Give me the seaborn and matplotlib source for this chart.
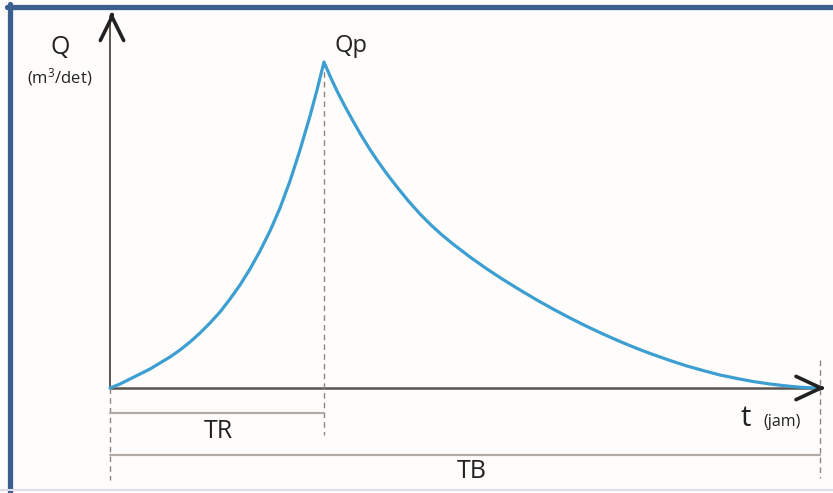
import numpy as np
import pandas as pd
import matplotlib.pyplot as plt
import seaborn as sns
from matplotlib.lines import Line2D

# hydrograph curve (t from the origin, Q upward)
rise_t = [0, 10, 20, 30, 40, 50, 60, 70, 80, 90, 100, 110, 120, 130, 140,
          150, 160, 170, 180, 190, 200, 207, 214]
rise_q = [0, 4, 9, 14, 19, 25, 31, 38, 46, 55, 65, 76, 89, 103, 119,
          137, 157, 180, 207, 238, 272, 298, 326]
fall_t = [214, 220, 227, 235, 243, 251, 260, 268, 277, 287, 298, 310, 321, 332,
          343, 360, 377, 393, 410, 426, 443, 460, 477, 493, 510, 527, 543, 560,
          577, 593, 610, 627, 643, 660, 677, 690, 705]
fall_q = [326, 312, 297, 281.5, 267, 253, 238.5, 226.5, 214, 201, 187.5, 174, 163, 153,
          144, 131, 119, 108.5, 98, 88.5, 79, 70, 61.5, 54, 46.5, 39.5, 33.5, 27.5,
          22, 17.5, 13, 9.5, 6.5, 4, 2, 0.8, 0]

t_peak = 214
t_base = 710
q_peak = 326

df = pd.DataFrame({"t": rise_t + fall_t[1:], "Q": rise_q + fall_q[1:]})

sns.set_theme(style="white")
plt.rcParams["font.family"] = ["Open Sans", "DejaVu Sans"]
plt.rcParams["mathtext.default"] = "regular"

fig = plt.figure(figsize=(8.33, 4.93), dpi=100, facecolor="#fffdfb")
ax = fig.add_axes([0, 0, 1, 1])
ax.set_facecolor("#fffdfb")
ax.set_xlim(-110, 723)
ax.set_ylim(-105, 388)
ax.axis("off")

axis_col = "#5b5550"
dash_col = "#8a8480"
dim_col = "#b3aba3"

# axes lines with open arrow heads
ax.plot([0, 0], [0, 372], color=axis_col, lw=1.4)
ax.plot([0, 712], [0, 0], color=axis_col, lw=1.8)
ax.annotate("", xy=(2, 378), xytext=(2, 370),
            arrowprops=dict(arrowstyle="->,head_length=0.85,head_width=0.42",
                            lw=2.6, color="#222222", mutation_scale=20))
ax.annotate("", xy=(718, 0), xytext=(708, 0),
            arrowprops=dict(arrowstyle="->,head_length=0.9,head_width=0.42",
                            lw=2.6, color="#222222", mutation_scale=20))

# dashed guides
ax.plot([0, 0], [0, -92], color=dash_col, lw=1, ls=(0, (4, 3)))
ax.plot([t_peak, t_peak], [q_peak, -47], color=dash_col, lw=1, ls=(0, (4, 3)))
ax.plot([t_base, t_base], [28, -90], color=dash_col, lw=1, ls=(0, (4, 3)))

# TR and TB dimension lines
ax.plot([0, t_peak], [-25, -25], color=dim_col, lw=1.6)
ax.plot([0, t_base], [-67, -67], color=dim_col, lw=1.6)

sns.lineplot(data=df, x="t", y="Q", sort=False, color="#3d9fd1", lw=2.3, ax=ax,
             solid_joinstyle="round", solid_capstyle="round")

txt = "#222222"
ax.text(-50, 341, "Q", fontsize=18, color=txt, ha="center", va="center")
ax.text(-50, 311, "(m$^3$/det)", fontsize=12, color=txt, ha="center", va="center")
ax.text(241, 342, "Qp", fontsize=17, color=txt, ha="center", va="center")
ax.text(636, -30, "t", fontsize=21, color=txt, ha="center", va="center")
ax.text(672, -34, "(jam)", fontsize=11.5, color=txt, ha="center", va="center")
ax.text(108, -43, "TR", fontsize=18, color=txt, ha="center", va="center")
ax.text(362, -84, "TB", fontsize=18, color=txt, ha="center", va="center")

# frame around the picture
border = "#3b5f8f"
fig.add_artist(Line2D([0.008, 1.0], [1 - 6.5 / 493, 1 - 6.5 / 493], color=border, lw=3.8))
fig.add_artist(Line2D([9.5 / 833, 9.5 / 833], [0.0, 1 - 4 / 493], color=border, lw=3.8))
fig.add_artist(Line2D([0.0, 1.0], [3 / 493, 3 / 493], color="#dcdcef", lw=1.5))

fig.savefig("out.png", dpi=100, facecolor=fig.get_facecolor())
